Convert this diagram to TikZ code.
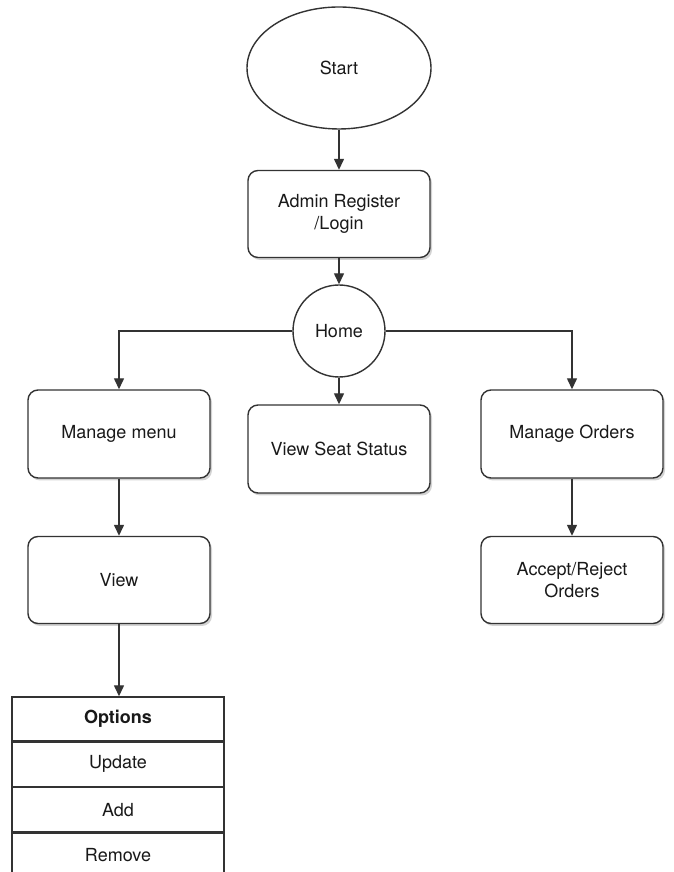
\documentclass[tikz,border=0pt]{standalone}
\usepackage{fontspec}
\setmainfont{TeX Gyre Heros}
\usetikzlibrary{arrows.meta,shapes.geometric,shadows}
\definecolor{lc}{HTML}{333333}
\begin{document}
\begin{tikzpicture}[x=1pt,y=1pt,
  every node/.style={font=\fontsize{18}{22}\selectfont, text=black!90},
  box/.style={draw=lc, line width=1.4pt, rounded corners=10pt, fill=white, minimum width=182pt, minimum height=87pt, align=center, inner sep=0pt,
    drop shadow={shadow xshift=2pt, shadow yshift=-2.5pt, opacity=0.35, fill=gray}},
  cell/.style={draw=lc, line width=1.4pt, fill=white, minimum width=212pt, minimum height=44pt, inner sep=0pt},
  conn/.style={draw=lc, line width=1.4pt},
  arr/.style={conn, -{Triangle[length=11pt,width=10pt]}}
]
\useasboundingbox (0,0) rectangle (673,872);
\node[ellipse, draw=lc, line width=1.4pt, fill=white, minimum width=184pt, minimum height=122pt, inner sep=0pt] (start) at (339,804) {Start};
\node[box] (admin) at (339,658) {Admin Register\\/Login};
\node[circle, draw=lc, line width=1.4pt, fill=white, minimum size=92pt, inner sep=0pt] (home) at (339,541) {Home};
\node[box, minimum height=88pt] (menu) at (119,438) {Manage menu};
\node[box, minimum height=88pt] (seat) at (339,423) {View Seat Status};
\node[box, minimum height=88pt] (orders) at (572,438) {Manage Orders};
\node[box] (view) at (119,292) {View};
\node[box] (accept) at (572,292) {Accept/Reject\\Orders};
\node[cell, font=\bfseries\fontsize{18}{22}\selectfont] (opt) at (118,153) {Options};
\node[cell, anchor=north] (upd) at (opt.south) {Update};
\node[cell, anchor=north] (add) at (upd.south) {Add};
\node[cell, anchor=north] (rem) at (add.south) {Remove};
\draw[arr] (start.south) -- (admin.north);
\draw[arr] (admin.south) -- (home.north);
\draw[arr] (home.south) -- (seat.north);
\draw[arr] (home.west) -| (menu.north);
\draw[arr] (home.east) -| (orders.north);
\draw[arr] (menu.south) -- (view.north);
\draw[arr] (orders.south) -- (accept.north);
\draw[arr] (view.south) -- (view.south |- opt.north);
\end{tikzpicture}
\end{document}
